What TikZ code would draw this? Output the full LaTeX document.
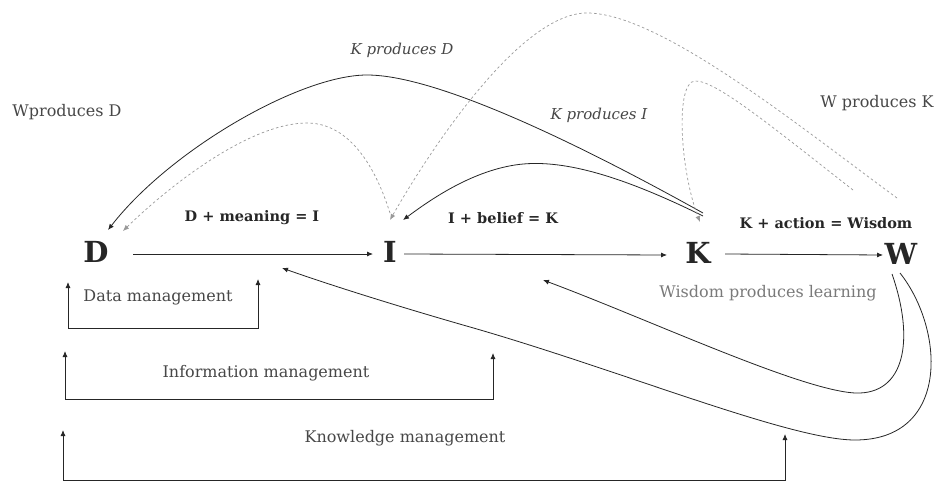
\documentclass[tikz,border=0pt]{standalone}
\usepackage{fontspec}
\setmainfont{DejaVu Serif}
\usetikzlibrary{arrows.meta,calc}

\definecolor{ink}{HTML}{262626}
\definecolor{soft}{HTML}{999999}
\definecolor{labelgray}{HTML}{474747}
\definecolor{lightlabel}{HTML}{7A7A7A}

\tikzset{
  bigletter/.style={font=\fontsize{29}{29}\selectfont\bfseries, text=ink, inner sep=0pt},
  eqlabel/.style={font=\fontsize{14.5}{15}\selectfont\bfseries, text=ink, inner sep=0pt},
  itlabel/.style={font=\fontsize{15}{16}\selectfont\itshape, text=labelgray, inner sep=0pt},
  plainlabel/.style={font=\fontsize{16}{17}\selectfont, text=labelgray, inner sep=0pt},
  paleplain/.style={font=\fontsize{16}{17}\selectfont, text=lightlabel, inner sep=0pt},
  tip/.style={-{Latex[length=6pt,width=5pt]}},
  solidline/.style={draw=ink, line width=0.8pt},
  dashline/.style={draw=soft, line width=0.7pt, dash pattern=on 2.5pt off 2.5pt},
}

\begin{document}
\begin{tikzpicture}[x=1pt,y=-1pt]
\useasboundingbox[fill=white] (0,0) rectangle (939,484);

% the four stages
\node[bigletter] (D) at (96,252) {D};
\node[bigletter] (I) at (390,252) {I};
\node[bigletter] (K) at (698,253) {K};
\node[bigletter] (W) at (901,254) {W};

% transition labels
\node[eqlabel] (eq1) at (252,218) {D + meaning = I};
\node[eqlabel] (eq2) at (503,218) {I + belief = K};
\node[eqlabel] (eq3) at (826,223) {K + action = Wisdom};

% feedback labels
\node[plainlabel] (wpd) at (67,112) {Wproduces D};
\node[itlabel] (kpd) at (402,50) {K produces D};
\node[itlabel] (kpi) at (599,115) {K produces I};
\node[plainlabel] (wpk) at (877,103) {W produces K};
\node[paleplain] (wpl) at (768,293) {Wisdom produces learning};

% management labels
\node[plainlabel] (dm) at (158,297) {Data management};
\node[plainlabel] (im) at (266,373) {Information management};
\node[plainlabel] (km) at (405,438) {Knowledge management};

% main chain
\draw[solidline,tip] ($(D)+(37,2)$) -- ($(I)+(-17,2)$);
\draw[solidline,tip] ($(I)+(14,2)$) -- ($(K)+(-31,2)$);
\draw[solidline,tip] ($(K)+(27,1)$) -- ($(W)+(-18,1)$);

% K produces D
\draw[solidline,tip] ($(K)+(5,-40)$) .. controls (590,150) and (440,75) .. (367,75)
  .. controls (300,75) and (170,150) .. ($(D)+(12,-22)$);
% I back to D
\draw[dashline,tip] ($(I)+(0,-39)$) .. controls (370,150) and (340,123) .. (307,123)
  .. controls (250,123) and (170,185) .. ($(D)+(27,-21)$);
% K produces I
\draw[solidline,tip] ($(K)+(5,-37)$) .. controls (620,175) and (560,158) .. (515,165)
  .. controls (470,172) and (430,200) .. ($(I)+(13,-32)$);
% W back to I
\draw[dashline,tip] ($(W)+(-4,-56)$) .. controls (800,127) and (660,13) .. (587,13)
  .. controls (520,13) and (430,150) .. ($(I)+(0,-32)$);
% W produces K
\draw[dashline,tip] ($(W)+(-48,-64)$) .. controls (770,125) and (715,80) .. (695,81)
  .. controls (675,82) and (680,170) .. ($(K)+(2,-31)$);

% wisdom produces learning
\coordinate (learnK) at (543,280);
\coordinate (learnI) at (282,268);
\draw[solidline,tip] ($(W)+(-9,20)$) .. controls (915,340) and (905,395) .. (855,393)
  .. controls (800,390) and (650,320) .. (learnK);
\draw[solidline,tip] ($(W)+(-1,19)$) .. controls (945,330) and (950,440) .. (855,440)
  .. controls (790,440) and (620,370) .. (470,327)
  .. controls (400,307) and (330,285) .. (learnI);

% management brackets
\coordinate (dmL) at (68,282);
\coordinate (dmR) at (258,279);
\coordinate (imL) at (65,351);
\coordinate (imR) at (493,353);
\coordinate (kmL) at (63,430);
\coordinate (kmR) at (785,434);
\draw[solidline,{Latex[length=6pt,width=5pt]}-{Latex[length=6pt,width=5pt]}]
  (dmL) -- (dmL |- 0,328) -- (dmR |- 0,328) -- (dmR);
\draw[solidline,{Latex[length=6pt,width=5pt]}-{Latex[length=6pt,width=5pt]}]
  (imL) -- (imL |- 0,399) -- (imR |- 0,399) -- (imR);
\draw[solidline,{Latex[length=6pt,width=5pt]}-{Latex[length=6pt,width=5pt]}]
  (kmL) -- (kmL |- 0,480) -- (kmR |- 0,480) -- (kmR);
\end{tikzpicture}
\end{document}
